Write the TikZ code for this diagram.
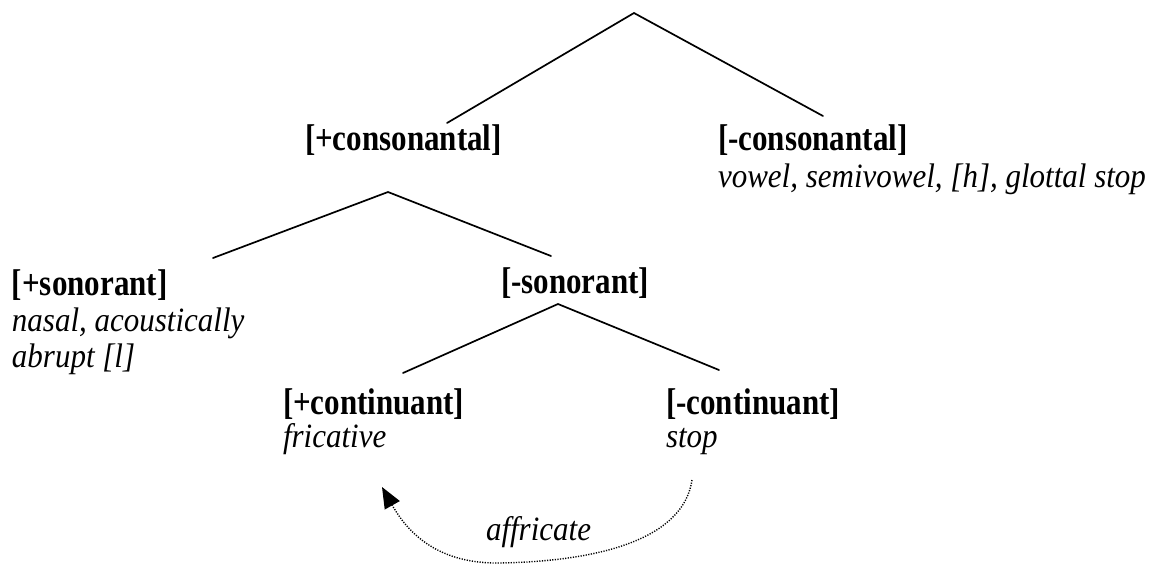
\documentclass[tikz,border=0pt]{standalone}
\usepackage{fontspec}
\setmainfont{Liberation Serif}
\usetikzlibrary{arrows.meta}
% bold feature label and italic description, set a little taller than wide
\newcommand{\featlabel}[1]{\scalebox{1}[1.2]{\textbf{#1}}}
\newcommand{\featdesc}[1]{\scalebox{1}[1.1]{\textit{#1}}}
\begin{document}
\begin{tikzpicture}[x=1pt,y=-1pt,
  feat/.style={anchor=base west, inner sep=0pt, outer sep=0pt,
    font=\fontsize{31}{37}\selectfont},
  branch/.style={line width=1.7pt, line cap=round, line join=miter},
  shiftarrow/.style={line width=1.4pt, dash pattern=on 1.2pt off 1.4pt,
    -{Triangle[length=21pt,width=17pt]}}]
\useasboundingbox (0,0) rectangle (1160,565);

% feature labels
\node[feat] (pcons) at (305,150) {\featlabel{[+consonantal]}};
\node[feat] (mcons) at (718,150) {\featlabel{[-consonantal]}};
\node[feat] (mconsd) at (718,187) {\featdesc{vowel, semivowel, [h], glottal stop}};
\node[feat] (pson) at (12,295) {\featlabel{[+sonorant]}};
\node[feat] (psond) at (12,331) {\featdesc{nasal, acoustically}};
\node[feat] (psone) at (12,367) {\featdesc{abrupt [l]}};
\node[feat] (mson) at (501,293) {\featlabel{[-sonorant]}};
\node[feat] (pcont) at (283,414) {\featlabel{[+continuant]}};
\node[feat] (pcontd) at (283,447) {\featdesc{fricative}};
\node[feat] (mcont) at (666,414) {\featlabel{[-continuant]}};
\node[feat] (mcontd) at (666,447) {\featdesc{stop}};
\node[feat] (affr) at (486,540) {\featdesc{affricate}};

% branch points and branch ends
\coordinate (root) at (634,13);
\coordinate (rootL) at (447,123);
\coordinate (rootR) at (823,116);
\coordinate (cons) at (388,192);
\coordinate (consL) at (213,258);
\coordinate (consR) at (551,256);
\coordinate (son) at (558,304);
\coordinate (sonL) at (403,373);
\coordinate (sonR) at (719,370);

\draw[branch] (rootL) -- (root) -- (rootR);
\draw[branch] (consL) -- (cons) -- (consR);
\draw[branch] (sonL) -- (son) -- (sonR);

% dotted affricate arrow from stop to fricative
\coordinate (afrom) at (692,480);
\coordinate (alow) at (500,563);
\coordinate (ato) at (382,487);
\draw[shiftarrow] (afrom) .. controls (684,535) and (610,561) .. (alow)
  .. controls (440,564) and (409,535) .. (ato);
\end{tikzpicture}
\end{document}
